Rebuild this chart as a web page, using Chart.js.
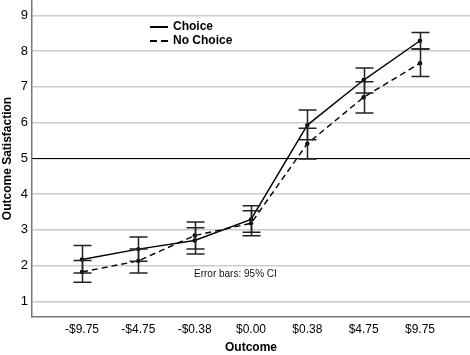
<!DOCTYPE html>
<html>
<head>
<meta charset="utf-8">
<script src="https://cdn.jsdelivr.net/npm/chart.js@4/dist/chart.umd.min.js"></script>
<style>
html,body{margin:0;padding:0;background:#fff;}
#wrap{width:470px;height:355px;position:relative;}
</style>
</head>
<body>
<div id="wrap"><canvas id="c" width="470" height="355"></canvas></div>
<script>
const categories = ["-$9.75", "-$4.75", "-$0.38", "$0.00", "$0.38", "$4.75", "$9.75"];
const choiceMean  = [2.17, 2.46, 2.70, 3.29, 5.93, 7.19, 8.29];
const choiceLow   = [1.79, 2.12, 2.32, 2.93, 5.52, 6.83, 8.06];
const choiceHigh  = [2.56, 2.80, 3.06, 3.67, 6.35, 7.53, 8.52];
const noChoiceMean = [1.82, 2.13, 2.84, 3.18, 5.41, 6.71, 7.66];
const noChoiceLow  = [1.53, 1.79, 2.46, 2.83, 4.98, 6.27, 7.29];
const noChoiceHigh = [2.14, 2.46, 3.22, 3.53, 5.84, 7.14, 8.06];
const yTicks = [1, 2, 3, 4, 5, 6, 7, 8, 9];
const referenceValue = 5;

const FONT = "'Liberation Sans', Arial, Helvetica, sans-serif";

const toPts = arr => arr.map((v, i) => ({x: i, y: v}));

const errorBarPlugin = {
  id: 'errorBars',
  afterDatasetsDraw(chart) {
    const ctx = chart.ctx;
    const xs = chart.scales.x, ys = chart.scales.y;
    const sets = [[choiceLow, choiceHigh], [noChoiceLow, noChoiceHigh]];
    ctx.save();
    ctx.strokeStyle = '#222';
    ctx.lineWidth = 1.5;
    sets.forEach(([lo, hi]) => {
      lo.forEach((l, i) => {
        const x = Math.round(xs.getPixelForValue(i)) + 0.5;
        const yl = ys.getPixelForValue(l);
        const yh = ys.getPixelForValue(hi[i]);
        ctx.beginPath();
        ctx.moveTo(x, yl); ctx.lineTo(x, yh);
        ctx.moveTo(x - 9, yl); ctx.lineTo(x + 9, yl);
        ctx.moveTo(x - 9, yh); ctx.lineTo(x + 9, yh);
        ctx.stroke();
      });
    });
    ctx.restore();
  },
  beforeDatasetsDraw(chart) {
    const ctx = chart.ctx;
    const a = chart.chartArea;
    const y = Math.round(chart.scales.y.getPixelForValue(referenceValue)) + 0.5;
    ctx.save();
    ctx.strokeStyle = '#000';
    ctx.lineWidth = 1.2;
    ctx.beginPath();
    ctx.moveTo(a.left, y); ctx.lineTo(a.right, y);
    ctx.stroke();
    ctx.restore();
  },
  afterDraw(chart) {
    const ctx = chart.ctx;
    const a = chart.chartArea;
    ctx.save();
    const lx = a.left + 118, ly1 = 27, ly2 = 41;
    ctx.strokeStyle = '#000';
    ctx.lineWidth = 2;
    ctx.beginPath(); ctx.moveTo(lx, ly1); ctx.lineTo(lx + 18, ly1); ctx.stroke();
    ctx.setLineDash([7, 4]);
    ctx.beginPath(); ctx.moveTo(lx, ly2); ctx.lineTo(lx + 18, ly2); ctx.stroke();
    ctx.setLineDash([]);
    ctx.fillStyle = '#000';
    ctx.font = "bold 12px " + FONT;
    ctx.textBaseline = 'middle';
    ctx.fillText('Choice', lx + 23, ly1);
    ctx.fillText('No Choice', lx + 23, ly2);
    ctx.font = "10px " + FONT;
    ctx.fillStyle = '#111';
    ctx.fillText('Error bars: 95% CI', a.left + 162, 274);
    ctx.restore();
  }
};

new Chart(document.getElementById('c'), {
  type: 'line',
  data: {
    datasets: [
      {
        label: 'Choice',
        data: toPts(choiceMean),
        borderColor: '#000',
        backgroundColor: '#000',
        borderWidth: 1.4,
        pointRadius: 2.2,
        pointHoverRadius: 2.2,
        pointBackgroundColor: '#000',
        pointBorderWidth: 0,
        tension: 0
      },
      {
        label: 'No Choice',
        data: toPts(noChoiceMean),
        borderColor: '#000',
        backgroundColor: '#000',
        borderWidth: 1.4,
        borderDash: [6, 4],
        pointRadius: 2.2,
        pointHoverRadius: 2.2,
        pointBackgroundColor: '#000',
        pointBorderWidth: 0,
        tension: 0
      }
    ]
  },
  options: {
    responsive: false,
    animation: false,
    layout: {padding: 0, autoPadding: false},
    plugins: {legend: {display: false}, tooltip: {enabled: false}},
    scales: {
      x: {
        type: 'linear',
        min: -0.888,
        max: 6.888,
        afterBuildTicks: s => { s.ticks = categories.map((_, i) => ({value: i})); },
        afterFit: s => { s.height = 38; s.paddingLeft = 0; s.paddingRight = 0; },
        grid: {display: false, drawTicks: false},
        border: {display: true, color: '#777', width: 1.5},
        ticks: {
          padding: 5,
          color: '#000',
          font: {family: FONT, size: 12},
          callback: v => categories[v] ?? '',
          maxRotation: 0,
          autoSkip: false
        },
        title: {
          display: true,
          text: 'Outcome',
          color: '#000',
          font: {family: FONT, size: 12, weight: 'bold'},
          padding: {top: 0, bottom: 0}
        }
      },
      y: {
        type: 'linear',
        min: 0.56,
        max: 9.43,
        afterBuildTicks: s => { s.ticks = yTicks.map(v => ({value: v})); },
        afterFit: s => { s.width = 32; s.paddingTop = 0; s.paddingBottom = 0; },
        grid: {color: '#cccccc', lineWidth: 1.5, drawTicks: false},
        border: {display: true, color: '#777', width: 1.5},
        ticks: {
          padding: 4,
          color: '#000',
          font: {family: FONT, size: 13}
        },
        title: {
          display: true,
          text: 'Outcome Satisfaction',
          color: '#000',
          font: {family: FONT, size: 12, weight: 'bold'},
          padding: {top: 0, bottom: 0}
        }
      }
    }
  },
  plugins: [errorBarPlugin]
});
</script>
</body>
</html>
